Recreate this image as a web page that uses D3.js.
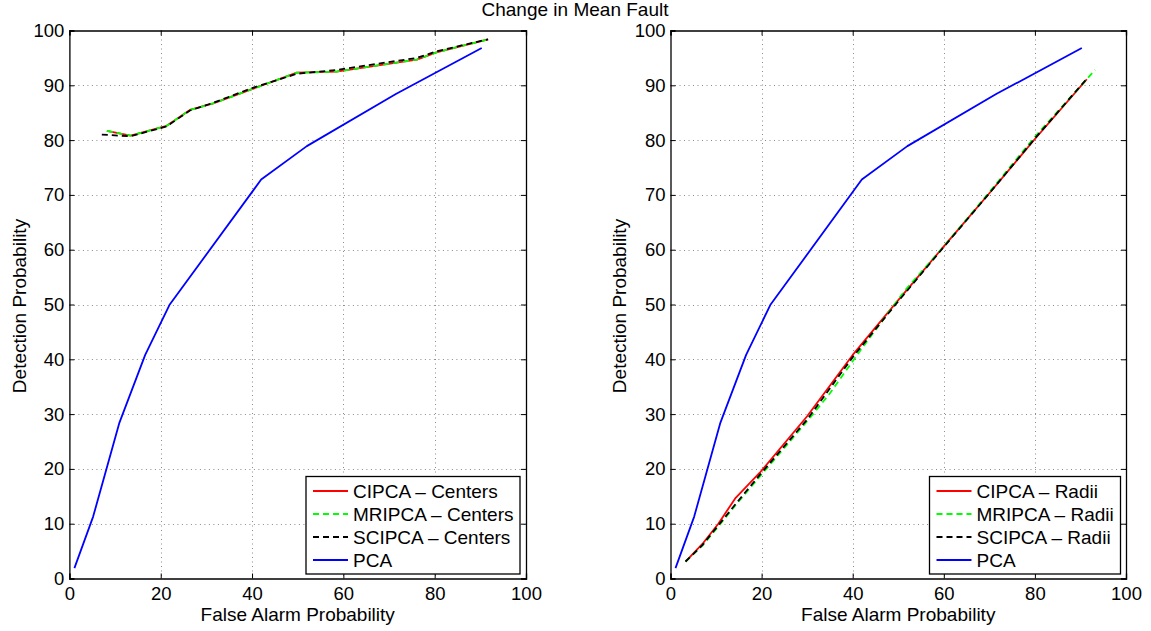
<!DOCTYPE html>
<html>
<head>
<meta charset="utf-8">
<script src="https://cdn.jsdelivr.net/npm/d3@7"></script>
<style>
  html, body { margin: 0; padding: 0; background: #fff; }
  svg { display: block; }
  text { font-family: "Liberation Sans", Arial, Helvetica, sans-serif; fill: #000; }
</style>
</head>
<body>
<svg id="chart" width="1151" height="631"></svg>
<script>
// ---------------- DATA ----------------
const title = "Change in Mean Fault";
const xLabel = "False Alarm Probability";
const yLabel = "Detection Probability";
const xTicks = [0, 20, 40, 60, 80, 100];
const yTicks = [0, 10, 20, 30, 40, 50, 60, 70, 80, 90, 100];

// PCA (same in both panels)
const pcaX = [1.1, 5.2, 10.9, 16.6, 21.9, 42.0, 52.0, 71.5, 90.3];
const pcaY = [1.9, 11.3, 28.3, 40.8, 49.9, 72.8, 78.9, 88.4, 96.8];

// Left panel: Centers
const cipcaCentersX = [8.2, 13.4, 21.3, 26.4, 31.5, 40.0, 49.8, 58.5, 76.1, 80.4, 91.7];
const cipcaCentersY = [81.7, 80.8, 82.6, 85.5, 86.7, 89.3, 92.3, 92.5, 94.7, 96.0, 98.4];
const mripcaCentersX = [8.2, 13.4, 21.3, 26.4, 31.5, 40.0, 49.8, 58.5, 76.1, 80.4, 91.7];
const mripcaCentersY = [81.7, 80.8, 82.6, 85.5, 86.7, 89.3, 92.3, 92.5, 94.7, 96.0, 98.4];
const scipcaCentersX = [7.1, 13.4, 21.3, 26.4, 31.5, 40.0, 49.8, 58.5, 76.1, 80.4, 91.7];
const scipcaCentersY = [81.0, 80.7, 82.5, 85.4, 86.8, 89.5, 92.1, 92.8, 95.0, 96.2, 98.4];

// Right panel: Radii
const cipcaRadiiX = [3.3, 7.0, 10.5, 14.2, 19.6, 30.0, 40.0, 50.0, 60.0, 70.0, 80.0, 91.4];
const cipcaRadiiY = [3.1, 6.3, 10.0, 14.6, 19.3, 29.6, 40.8, 50.8, 60.6, 70.3, 80.2, 91.1];
const mripcaRadiiX = [3.3, 7.0, 10.5, 14.5, 19.6, 30.0, 35.0, 42.0, 51.5, 60.0, 70.0, 80.0, 93.2];
const mripcaRadiiY = [3.1, 6.0, 9.5, 13.6, 18.6, 28.7, 33.8, 42.0, 52.6, 60.6, 70.5, 80.6, 92.8];
const scipcaRadiiX = [3.3, 7.0, 10.5, 14.5, 19.6, 30.0, 40.0, 50.0, 60.0, 70.0, 80.0, 91.2];
const scipcaRadiiY = [3.1, 6.1, 9.7, 13.8, 18.9, 29.0, 40.4, 50.6, 60.5, 70.3, 80.3, 91.0];

const leftLegendLabels = ["CIPCA \u2013 Centers", "MRIPCA \u2013 Centers", "SCIPCA \u2013 Centers", "PCA"];
const rightLegendLabels = ["CIPCA \u2013 Radii", "MRIPCA \u2013 Radii", "SCIPCA \u2013 Radii", "PCA"];
const seriesColors = ["#ff0000", "#00ff00", "#000000", "#0000ff"];
const seriesDash = [null, "6,4", "6,4", null];

// ---------------- DRAW ----------------
const svg = d3.select("#chart");
const FONT = 18.5;
const LFONT = 19;

svg.append("text")
  .attr("x", 575).attr("y", 16)
  .attr("text-anchor", "middle")
  .style("font-size", LFONT + "px")
  .text(title);

function zip(xs, ys) { return xs.map((x, i) => [x, ys[i]]); }

function panel(cfg) {
  const x = d3.scaleLinear().domain([0, 100]).range([cfg.x0, cfg.x1]);
  const y = d3.scaleLinear().domain([0, 100]).range([578.5, 30.5]);
  const g = svg.append("g");

  // grid
  const grid = g.append("g").attr("stroke", "#8c8c8c").attr("stroke-width", 1)
    .attr("stroke-dasharray", "1,3.5").attr("fill", "none");
  xTicks.slice(1, -1).forEach(t => {
    grid.append("line").attr("x1", Math.round(x(t)) + 0.5).attr("x2", Math.round(x(t)) + 0.5)
      .attr("y1", y(100)).attr("y2", y(0));
  });
  yTicks.slice(1, -1).forEach(t => {
    grid.append("line").attr("y1", Math.round(y(t)) + 0.5).attr("y2", Math.round(y(t)) + 0.5)
      .attr("x1", x(0)).attr("x2", x(100));
  });

  // axes
  const ax = d3.axisBottom(x).tickValues(xTicks).tickSize(-5).tickPadding(8.5).tickFormat(d3.format("d"));
  const ay = d3.axisLeft(y).tickValues(yTicks).tickSize(-5).tickPadding(5).tickFormat(d3.format("d"));
  const axT = d3.axisTop(x).tickValues(xTicks).tickSize(-5).tickFormat("");
  const ayR = d3.axisRight(y).tickValues(yTicks).tickSize(-5).tickFormat("");

  const gx = g.append("g").attr("transform", `translate(0,${y(0)})`).call(ax);
  const gy = g.append("g").attr("transform", `translate(${x(0)},0)`).call(ay);
  const gt = g.append("g").attr("transform", `translate(0,${y(100)})`).call(axT);
  const gr = g.append("g").attr("transform", `translate(${x(100)},0)`).call(ayR);
  [gx, gy, gt, gr].forEach(a => {
    a.selectAll("path").attr("stroke", "#000").attr("stroke-width", 1.3);
    a.selectAll("line").attr("stroke", "#000").attr("stroke-width", 1);
    a.selectAll("text").style("font-size", FONT + "px")
      .style("font-family", '"Liberation Sans", Arial, Helvetica, sans-serif').attr("fill", "#000");
  });

  // axis labels
  g.append("text").attr("x", (cfg.x0 + cfg.x1) / 2).attr("y", 620.5)
    .attr("text-anchor", "middle").style("font-size", LFONT + "px").text(xLabel);
  g.append("text").attr("transform", `translate(${cfg.yLabelX},${cfg.yLabelY}) rotate(-90)`)
    .attr("text-anchor", "middle").style("font-size", LFONT + "px").text(yLabel);

  // lines
  const line = d3.line().x(d => x(d[0])).y(d => y(d[1]));
  cfg.series.forEach((s, i) => {
    g.append("path").datum(s)
      .attr("d", line)
      .attr("fill", "none")
      .attr("stroke", seriesColors[i])
      .attr("stroke-width", 1.8)
      .attr("stroke-dasharray", seriesDash[i])
      .attr("stroke-linejoin", "round");
  });

  // legend
  const L = cfg.legend;
  const lg = g.append("g");
  lg.append("rect").attr("x", L.x).attr("y", 476.5).attr("width", L.w).attr("height", 97.5)
    .attr("fill", "#fff").attr("stroke", "#000").attr("stroke-width", 1.3);
  cfg.labels.forEach((lab, i) => {
    const cy = 491 + i * 23;
    lg.append("line").attr("x1", L.x + 7).attr("x2", L.x + 42).attr("y1", cy).attr("y2", cy)
      .attr("stroke", seriesColors[i]).attr("stroke-width", 1.8)
      .attr("stroke-dasharray", seriesDash[i]);
    lg.append("text").attr("x", L.x + 47).attr("y", cy + 7)
      .style("font-size", LFONT + "px").text(lab);
  });
}

panel({
  x0: 69.4, x1: 526,
  yLabelX: 26, yLabelY: 306,
  legend: { x: 306, w: 214 },
  labels: leftLegendLabels,
  series: [zip(cipcaCentersX, cipcaCentersY), zip(mripcaCentersX, mripcaCentersY),
           zip(scipcaCentersX, scipcaCentersY), zip(pcaX, pcaY)]
});
panel({
  x0: 670.5, x1: 1126,
  yLabelX: 626, yLabelY: 306,
  legend: { x: 929.5, w: 191 },
  labels: rightLegendLabels,
  series: [zip(cipcaRadiiX, cipcaRadiiY), zip(mripcaRadiiX, mripcaRadiiY),
           zip(scipcaRadiiX, scipcaRadiiY), zip(pcaX, pcaY)]
});
</script>
</body>
</html>
